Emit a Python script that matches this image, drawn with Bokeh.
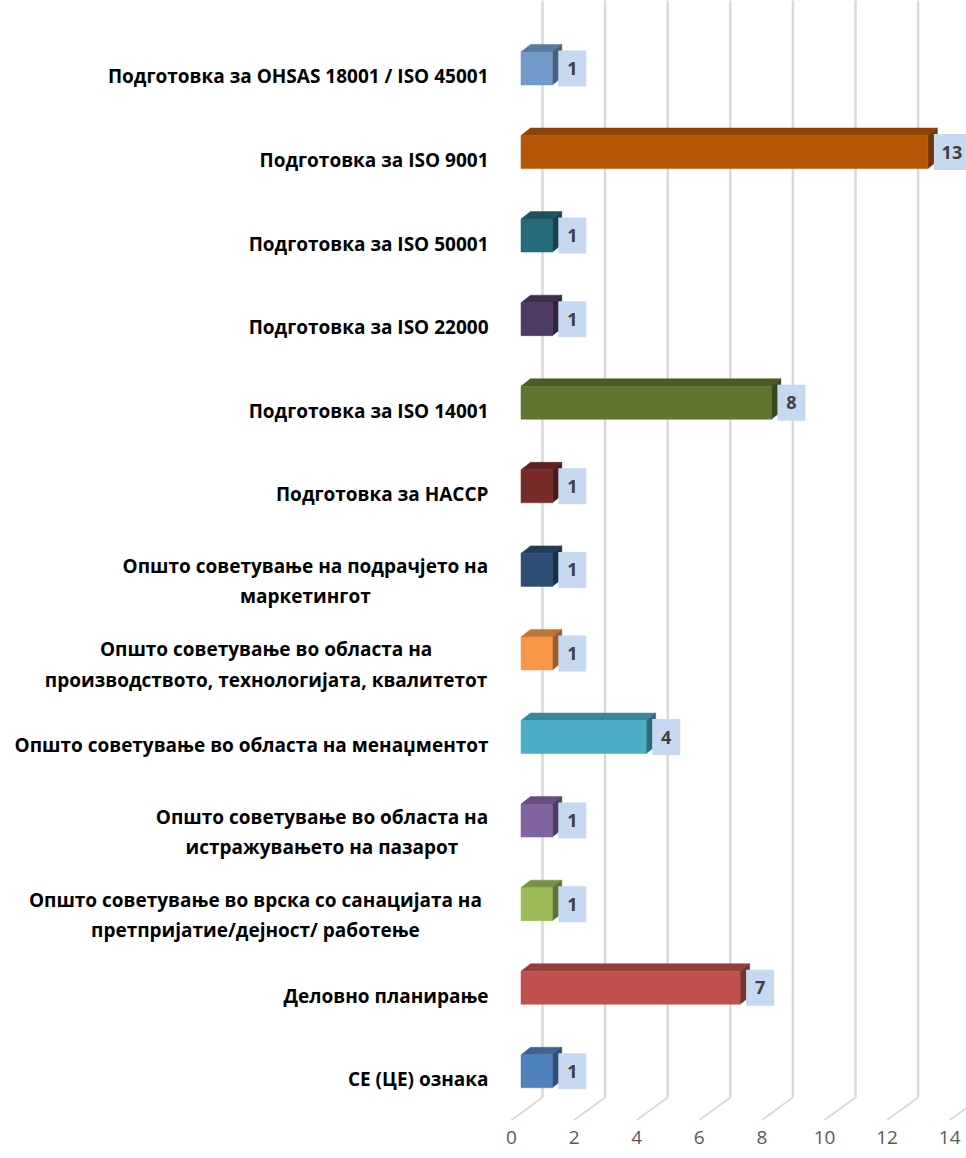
from bokeh.plotting import figure
from bokeh.models import Range1d, FixedTicker, ColumnDataSource
from bokeh.embed import file_html
from bokeh.resources import INLINE
from bokeh.core.properties import value

# ---------------- data (top to bottom as displayed) ----------------
categories = [
    "Подготовка за OHSAS 18001 / ISO 45001",
    "Подготовка за ISO 9001",
    "Подготовка за ISO 50001",
    "Подготовка за ISO 22000",
    "Подготовка за ISO 14001",
    "Подготовка за HACCP",
    "Општо советување на подрачјето на\nмаркетингот",
    "Општо советување во областа на\nпроизводството, технологијата, квалитетот",
    "Општо советување во областа на менаџментот",
    "Општо советување во областа на\nистражувањето на пазарот",
    "Општо советување во врска со санацијата на\nпретпријатие/дејност/ работење",
    "Деловно планирање",
    "CE (ЦЕ) ознака",
]
values = [1, 13, 1, 1, 8, 1, 1, 1, 4, 1, 1, 7, 1]
colors = ["#729ACA", "#B65708", "#276A7C", "#4D3B62", "#5F7530", "#772C2A",
          "#2C4D75", "#F79646", "#4BACC6", "#8064A2", "#9BBB59", "#C0504D", "#4F81BD"]
x_ticks = [0, 2, 4, 6, 8, 10, 12, 14]

# ---------------- geometry (styling) ----------------
SX = 31.3      # px per value unit
SY = 83.57     # px per category row
W, H = 966, 1158
BB = 38
FRAME_H = H - BB
ORIGIN_X = 511.0   # pixel of value 0 on floor front edge
x_start = (0 - ORIGIN_X) / SX
x_end = x_start + W / SX
ROW0_Y = 1070.8    # pixel of bottom bar centre
y_end = ROW0_Y / SY
y_start = y_end - FRAME_H / SY

FLOOR_FRONT = -(1119.5 - ROW0_Y) / SY
FLOOR_BACK = -(1097.0 - ROW0_Y) / SY
WALL_DX = 31.0 / SX

XF = 9.5 / SX          # bar front-plane offset
DX = 9.5 / SX          # bar depth (x)
DY = 7.5 / SY          # bar depth (y)
BH = 33.0 / SY         # bar front height

FONT = "Open Sans"
LABEL_PX = 19
LABEL_RIGHT = 488.0
GRID = "#D9D9D9"


def text_width(s):
    # rough advance-width estimate of the bold label font, px
    return sum(6.0 if ch == "," else 11.1 for ch in s)


def shade(hexc, f):
    h = hexc.lstrip("#")
    r, g, b = (int(h[i:i + 2], 16) for i in (0, 2, 4))
    return "#%02x%02x%02x" % (int(r * f), int(g * f), int(b * f))


p = figure(width=W, height=H, output_backend="svg", toolbar_location=None,
           x_range=Range1d(x_start, x_end), y_range=Range1d(y_start, y_end),
           y_axis_location=None, min_border_left=0, min_border_right=0,
           min_border_top=0, min_border_bottom=BB)
p.outline_line_color = None
p.xgrid.visible = False
p.ygrid.visible = False
p.background_fill_color = "white"
p.border_fill_color = "white"

# x axis
ax = p.xaxis[0]
ax.ticker = FixedTicker(ticks=x_ticks)
ax.axis_line_color = None
ax.major_tick_line_color = None
ax.minor_tick_line_color = None
ax.major_tick_out = 0
ax.major_tick_in = 0
ax.major_label_standoff = 10
ax.major_label_text_font = FONT
ax.major_label_text_font_size = "19px"
ax.major_label_text_color = "#595959"

# 3D gridlines: floor diagonals + back-wall verticals
grid_vals = list(range(0, 16, 2))
p.segment(x0=[v for v in grid_vals], y0=[FLOOR_FRONT] * len(grid_vals),
          x1=[v + WALL_DX for v in grid_vals], y1=[FLOOR_BACK] * len(grid_vals),
          line_color=GRID, line_width=2)
p.segment(x0=[v + WALL_DX for v in grid_vals], y0=[FLOOR_BACK] * len(grid_vals),
          x1=[v + WALL_DX for v in grid_vals], y1=[y_end + 1] * len(grid_vals),
          line_color=GRID, line_width=2.5)

n = len(categories)
rows = [n - 1 - k for k in range(n)]

# bars
fl, fr, fb, ft = [], [], [], []
top_xs, top_ys, side_xs, side_ys = [], [], [], []
fc, tc, sc = [], [], []
for k in range(n):
    v = values[k]
    y = rows[k]
    l, r = XF, XF + v
    b, t = y - BH / 2, y + BH / 2
    fl.append(l); fr.append(r); fb.append(b); ft.append(t)
    top_xs.append([l, r, r + DX, l + DX])
    top_ys.append([t, t, t + DY, t + DY])
    side_xs.append([r, r + DX, r + DX, r])
    side_ys.append([b, b + DY, t + DY, t])
    fc.append(colors[k]); tc.append(shade(colors[k], 0.78)); sc.append(shade(colors[k], 0.62))

p.patches(xs=top_xs, ys=top_ys, fill_color=tc, line_color=tc, line_width=0.5)
p.patches(xs=side_xs, ys=side_ys, fill_color=sc, line_color=sc, line_width=0.5)
p.quad(left=fl, right=fr, bottom=fb, top=ft, fill_color=fc, line_color=fc, line_width=0.5)

# value label boxes
box_x, box_w, labels = [], [], []
for k in range(n):
    v = values[k]
    txt = str(v)
    w = 28 if len(txt) == 1 else 36
    box_w.append(w)
    box_x.append(XF + v + (6 + w / 2) / SX)
    labels.append(txt)
src_box = ColumnDataSource(dict(x=box_x, y=rows, w=box_w, t=labels))
p.rect(x="x", y="y", width="w", height=36, width_units="screen", height_units="screen",
       source=src_box, fill_color="#C6D9F1", line_color=None)
p.text(x="x", y="y", text="t", source=src_box, text_align="center", text_baseline="middle",
       text_font=value(FONT), text_font_style="bold", text_font_size="18px",
       text_color="#404040")

# category labels: single-line right aligned; multi-line blocks centred, right edge at LABEL_RIGHT
s_x, s_y, s_t = [], [], []
m_x, m_y, m_t = [], [], []
for k in range(n):
    txt = categories[k]
    lines = txt.split("\n")
    if len(lines) == 1:
        s_x.append((LABEL_RIGHT - ORIGIN_X) / SX)
        s_y.append(rows[k] - 8 / SY)
        s_t.append(txt)
    else:
        wmax = max(text_width(s) for s in lines)
        m_x.append((LABEL_RIGHT - wmax / 2 - ORIGIN_X) / SX)
        m_y.append(rows[k] - 11 / SY)
        m_t.append(txt)

common = dict(text_baseline="middle", text_font=value(FONT), text_font_style="bold",
              text_font_size="%dpx" % LABEL_PX, text_color="#000000")
p.text(x="x", y="y", text="t", source=ColumnDataSource(dict(x=s_x, y=s_y, t=s_t)),
       text_align="right", **common)
p.text(x="x", y="y", text="t", source=ColumnDataSource(dict(x=m_x, y=m_y, t=m_t)),
       text_align="center", text_line_height=1.16, **common)

open("out.html", "w").write(file_html(p, INLINE))
